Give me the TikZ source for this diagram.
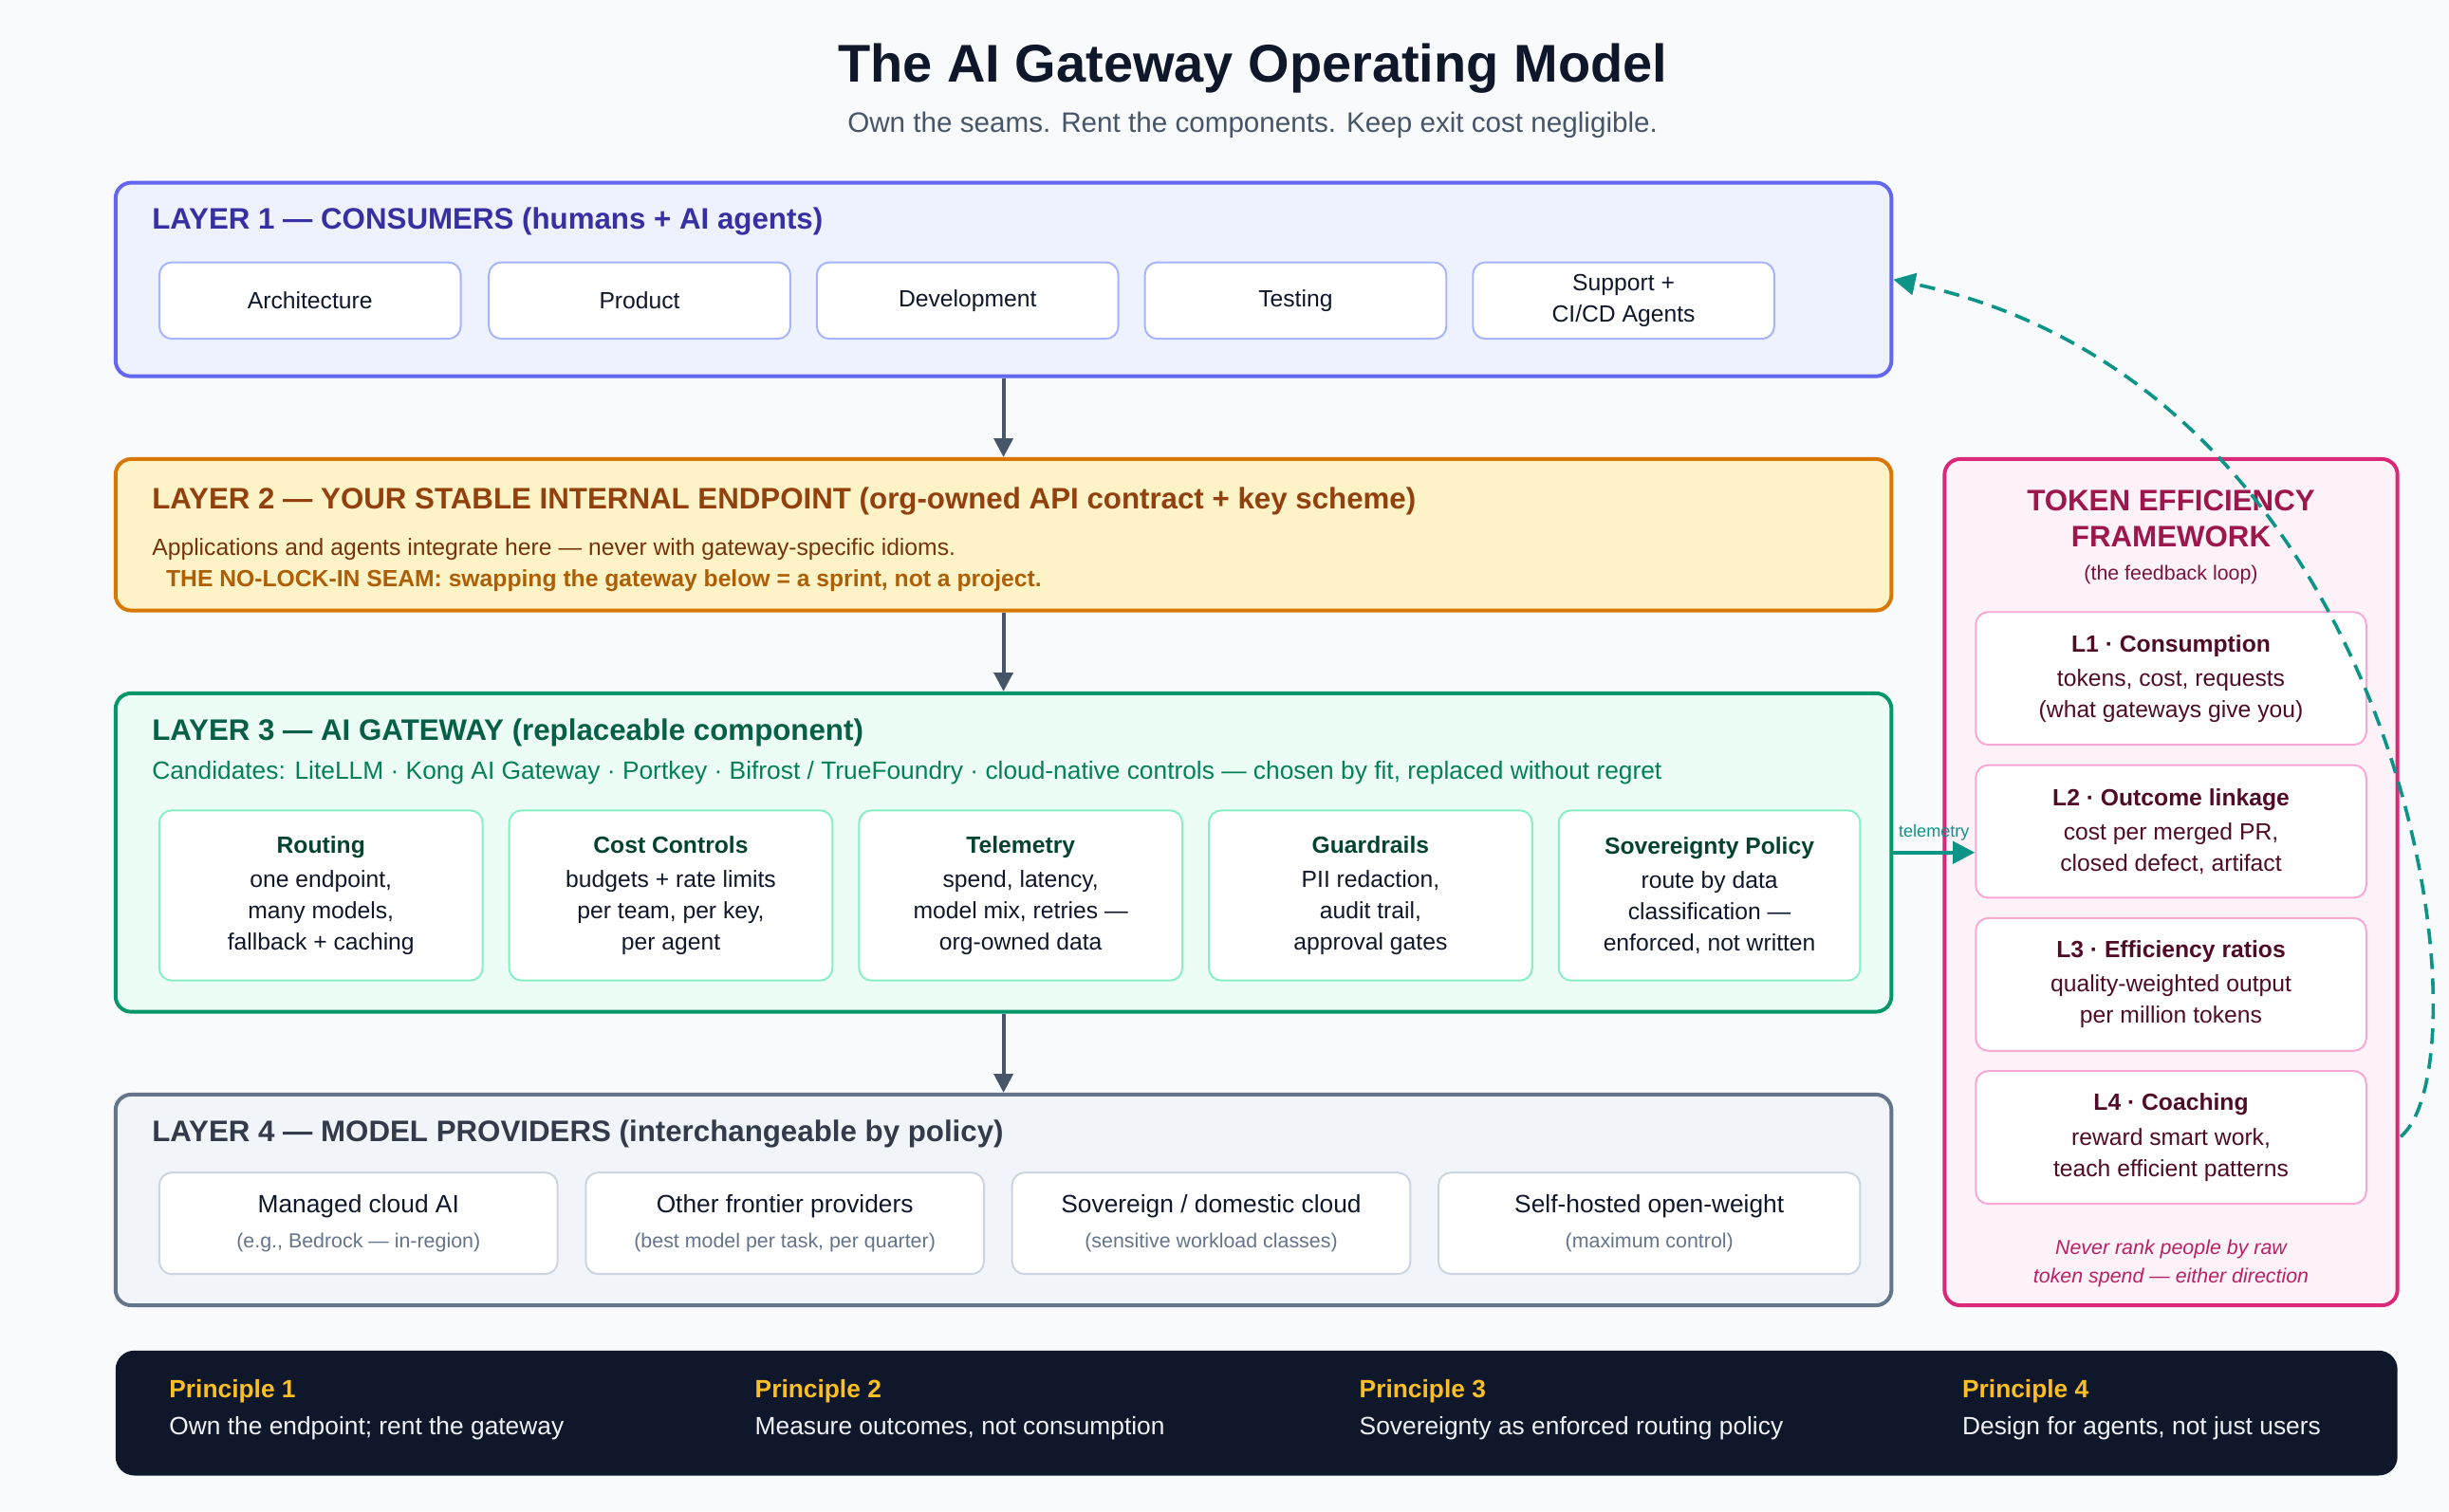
\documentclass[tikz,border=0pt]{standalone}
\usepackage{fontspec}
\setmainfont{Liberation Sans}
\usetikzlibrary{shapes,arrows,positioning,calc,arrows.meta}
\definecolor{bgc}{HTML}{F8FAFC}
\definecolor{ink}{HTML}{0F172A}
\definecolor{slate}{HTML}{475569}
\definecolor{lone}{HTML}{6366F1}
\definecolor{lonefill}{HTML}{EEF2FF}
\definecolor{lonetext}{HTML}{3730A3}
\definecolor{lonesub}{HTML}{A5B4FC}
\definecolor{ltwo}{HTML}{D97706}
\definecolor{ltwofill}{HTML}{FEF3C7}
\definecolor{ltwotext}{HTML}{92400E}
\definecolor{lthree}{HTML}{059669}
\definecolor{lthreefill}{HTML}{ECFDF5}
\definecolor{lthreetext}{HTML}{065F46}
\definecolor{lthreesub}{HTML}{86EFC4}
\definecolor{lfour}{HTML}{64748B}
\definecolor{lfourfill}{HTML}{F1F5F9}
\definecolor{lfoursub}{HTML}{CBD5E1}
\definecolor{tok}{HTML}{DB2777}
\definecolor{tokfill}{HTML}{FDF2F8}
\definecolor{toktext}{HTML}{9D174D}
\definecolor{toksub}{HTML}{F9A8D4}
\definecolor{teal}{HTML}{0D9488}
\definecolor{gold}{HTML}{FBBF24}

\begin{document}
\begin{tikzpicture}[
    x=0.5pt, y=-0.5pt,
    layer/.style={draw, line width=1.2pt, rounded corners=5pt, inner sep=0pt},
    sub/.style={draw, line width=0.6pt, rounded corners=4pt, fill=white, align=center, inner sep=0pt},
    head/.style={anchor=west, inner sep=0pt, font=\fontsize{9.5}{11}\selectfont\bfseries},
    line/.style={anchor=west, inner sep=0pt},
    arrow/.style={-{Triangle[length=6pt,width=6pt]}, line width=1.2pt, draw=slate},
    txt/.style={font=\fontsize{7.5}{10}\selectfont, align=center}
]
\useasboundingbox[fill=bgc] (0,0) rectangle (1568,968);

% ========== TITLE ==========
\node[font=\fontsize{17}{20}\selectfont\bfseries, text=ink] (title) at (802,44) {The AI Gateway Operating Model};
\node[font=\fontsize{9}{11}\selectfont, text=slate] (subtitle) at (802,80) {Own the seams. Rent the components. Keep exit cost negligible.};

% ========== LAYER 1 ==========
\node[layer, draw=lone, fill=lonefill, minimum width=568.5pt, minimum height=62pt] (l1) at (642.5,179) {};
\node[head, text=lonetext] (l1t) at (97,142) {LAYER 1 — CONSUMERS (humans + AI agents)};
\foreach \x/\n/\t in {198.5/arch/Architecture, 409.5/prod/Product, 619.5/dev/Development, 829.5/test/Testing, 1039.5/supp/{Support +\\CI/CD Agents}}
    \node[sub, draw=lonesub, minimum width=96.5pt, minimum height=24.5pt, txt, text=ink] (\n) at (\x,192.5) {\t};

% ========== LAYER 2 ==========
\node[layer, draw=ltwo, fill=ltwofill, minimum width=568.5pt, minimum height=48.5pt] (l2) at (642.5,342.5) {};
\node[head, text=ltwotext] (l2t) at (97,321) {LAYER 2 — YOUR STABLE INTERNAL ENDPOINT (org-owned API contract + key scheme)};
\node[line, font=\fontsize{7.5}{9}\selectfont, text=ltwotext!80!black] (l2a) at (97,352) {Applications and agents integrate here — never with gateway-specific idioms.};
\node[line, font=\fontsize{7.5}{9}\selectfont\bfseries, text=ltwo!80!black] (l2b) at (106,372) {THE NO-LOCK-IN SEAM: swapping the gateway below = a sprint, not a project.};

% ========== LAYER 3 ==========
\node[layer, draw=lthree, fill=lthreefill, minimum width=568.5pt, minimum height=102pt] (l3) at (642.5,546) {};
\node[head, text=lthreetext] (l3t) at (97,469) {LAYER 3 — AI GATEWAY (replaceable component)};
\node[line, font=\fontsize{8}{10}\selectfont, text=lthree!85!black] (l3c) at (97,495) {Candidates: LiteLLM · Kong AI Gateway · Portkey · Bifrost / TrueFoundry · cloud-native controls — chosen by fit, replaced without regret};
\foreach \x/\w/\n/\h/\t in {205.5/103.5/rout/Routing/{one endpoint,\\many models,\\fallback + caching},
    429.5/103.5/cost/Cost Controls/{budgets + rate limits\\per team, per key,\\per agent},
    653.5/103.5/tele/Telemetry/{spend, latency,\\model mix, retries —\\org-owned data},
    877.5/103.5/guard/Guardrails/{PII redaction,\\audit trail,\\approval gates},
    1094.5/96.5/sov/Sovereignty Policy/{route by data\\classification —\\enforced, not written}}
    \node[sub, draw=lthreesub, minimum width=\w pt, minimum height=54.5pt, txt, text=ink] (\n) at (\x,573.5)
        {{\bfseries\color{lthreetext!70!black}\h}\\[1pt]\t};

% ========== LAYER 4 ==========
\node[layer, draw=lfour, fill=lfourfill, minimum width=568.5pt, minimum height=67.5pt] (l4) at (642.5,768.5) {};
\node[head, text=ink!85!white] (l4t) at (97,726) {LAYER 4 — MODEL PROVIDERS (interchangeable by policy)};
\foreach \x/\w/\n/\h/\t in {229.5/127.5/man/Managed cloud AI/{(e.g., Bedrock — in-region)},
    502.5/127.5/oth/Other frontier providers/{(best model per task, per quarter)},
    775.5/127.5/sovc/{Sovereign / domestic cloud}/{(sensitive workload classes)},
    1056/135/self/Self-hosted open-weight/{(maximum control)}}
    \node[sub, draw=lfoursub, minimum width=\w pt, minimum height=32.5pt, txt, text=ink] (\n) at (\x,783.5)
        {\fontsize{8}{10}\selectfont\h\\[1pt]{\fontsize{6.5}{8}\selectfont\color{lfour}\t}};

% Arrows between layers
\draw[arrow] (l1.south) -- (l2.north);
\draw[arrow] (l2.south) -- (l3.north);
\draw[arrow] (l3.south) -- (l4.north);

% ========== TOKEN EFFICIENCY FRAMEWORK ==========
\node[layer, draw=tok, fill=tokfill, minimum width=145pt, minimum height=271pt] (tef) at (1390,565) {};
\node[font=\fontsize{9.5}{11.5}\selectfont\bfseries, text=toktext, align=center] (teft) at (1390,332) {TOKEN EFFICIENCY\\FRAMEWORK};
\node[font=\fontsize{6.5}{8}\selectfont, text=toktext!80!black] (tefs) at (1390,368) {(the feedback loop)};
\foreach \y/\n/\h/\t in {434.5/ka/L1 · Consumption/{tokens, cost, requests\\(what gateways give you)},
    532.5/kb/L2 · Outcome linkage/{cost per merged PR,\\closed defect, artifact},
    630.5/kc/L3 · Efficiency ratios/{quality-weighted output\\per million tokens},
    728.5/kd/L4 · Coaching/{reward smart work,\\teach efficient patterns}}
    \node[sub, draw=toksub, minimum width=125pt, minimum height=42.5pt, txt, text=toktext!50!black] (\n) at (1390,\y)
        {{\bfseries\h}\\[1pt]\t};
\node[font=\fontsize{6.5}{9}\selectfont\itshape, text=tok!85!black, align=center] (note) at (1390,809) {Never rank people by raw\\token spend — either direction};

% Telemetry + feedback loop
\coordinate (telein) at ($(kb.west)+(0,13.5)$);
\draw[-{Triangle[length=7pt,width=7pt]}, line width=1.2pt, teal] (l3.east |- telein) -- node[above, font=\fontsize{5.5}{6}\selectfont, text=teal] (telel) {telemetry} (telein);
\coordinate (loopstart) at (1537,728);
\draw[-{Triangle[length=7pt,width=7pt]}, line width=1.1pt, teal, dash pattern=on 5pt off 3pt]
    (loopstart) .. controls (1595,680) and (1545,250) .. (l1.east);

% ========== PRINCIPLES ==========
\node[draw=none, fill=ink, rounded corners=6pt, minimum width=730.5pt, minimum height=40pt] (bar) at (804.5,905) {};
\foreach \x/\n/\h/\t in {108/pa/Principle 1/{Own the endpoint; rent the gateway},
    483/pb/Principle 2/{Measure outcomes, not consumption},
    870/pc/Principle 3/{Sovereignty as enforced routing policy},
    1256/pd/Principle 4/{Design for agents, not just users}}
    \node[anchor=north west, inner sep=0pt, align=left, font=\fontsize{8}{12}\selectfont, text=white!90!lfour] (\n) at (\x,883)
        {{\bfseries\color{gold}\h}\\\t};

\end{tikzpicture}
\end{document}
